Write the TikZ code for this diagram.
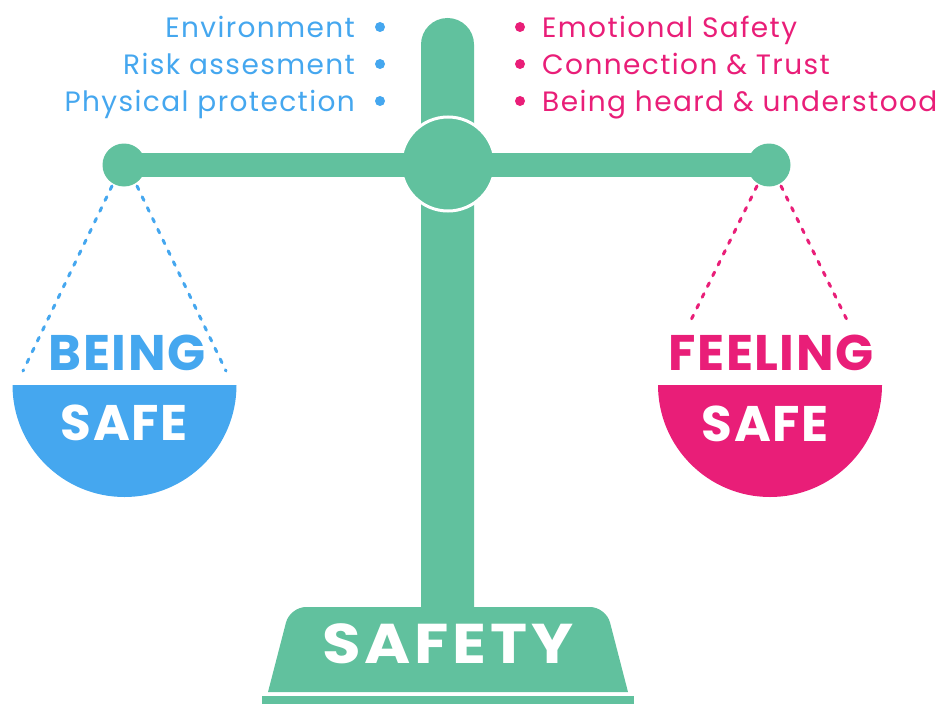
\documentclass[tikz,border=0pt]{standalone}
\usepackage{fontspec}
\setmainfont{Poppins}
\newfontfamily\listfont[LetterSpace=5]{Poppins}
\newfontfamily\wordfont[LetterSpace=3]{Poppins}
\newfontfamily\basefont[LetterSpace=6]{Poppins}
\definecolor{scalegreen}{HTML}{61C19E}
\definecolor{safeblue}{HTML}{45A7EF}
\definecolor{safepink}{HTML}{E91E78}
\tikzset{
  listtext/.style={font=\listfont\fontsize{28}{30}\selectfont, inner sep=0pt},
  bigword/.style={font=\wordfont\fontsize{50}{54}\selectfont\bfseries, inner sep=0pt},
  rope/.style={line width=3pt, line cap=round, dash pattern=on 4pt off 8pt},
}
\begin{document}
\begin{tikzpicture}[x=1pt,y=-1pt]
\useasboundingbox (0,0) rectangle (949,706);

\fill [scalegreen] (421,620) -- (421,44.5) arc [start angle=180, end angle=360, radius=26.5] -- (474,620) -- cycle;
\fill [scalegreen] (268,692) [rounded corners=16] -- (290,607) -- (606,607) [sharp corners] -- (628,692) -- cycle;
\fill [scalegreen] (262,696) rectangle (634,704);

\draw [rope, safeblue] (112,186) -- (23,371);
\draw [rope, safeblue] (137,186) -- (226,371);
\draw [rope, safepink] (757,186) -- (690,322);
\draw [rope, safepink] (781,186) -- (848,322);

\draw [white, line width=3pt, fill=scalegreen] (448,164) circle [radius=47];
\fill [scalegreen] (124,153) rectangle (770,177);
\fill [scalegreen] (124,165) circle [radius=21.5];
\fill [scalegreen] (769,165) circle [radius=21.5];

\fill [safeblue] (12.5,385) arc [start angle=180, end angle=0, radius=112] -- cycle;
\fill [safepink] (658,385) arc [start angle=180, end angle=0, radius=112] -- cycle;

\node [listtext, text=safeblue, anchor=base east] (environment) at (355,38) {Environment};
\node [listtext, text=safeblue, anchor=base east] (risk) at (355,75) {Risk assesment};
\node [listtext, text=safeblue, anchor=base east] (physical) at (355,112) {Physical protection};
\foreach \y in {27,64,101} \fill [safeblue] (380,\y) circle [radius=5];

\node [listtext, text=safepink, anchor=base west] (emotional) at (542,38) {Emotional Safety};
\node [listtext, text=safepink, anchor=base west] (connection) at (542,75) {Connection \& Trust};
\node [listtext, text=safepink, anchor=base west] (heard) at (542,112) {Being heard \& understood};
\foreach \y in {27,64,101} \fill [safepink] (520,\y) circle [radius=5];

\node [bigword, text=safeblue, anchor=base] (being) at (127,370) {BEING};
\node [bigword, text=white, anchor=base] (safeleft) at (124,440) {SAFE};
\node [bigword, text=safepink, anchor=base] (feeling) at (771,370) {FEELING};
\node [bigword, text=white, anchor=base] (saferight) at (765,441) {SAFE};

\node [text=white, anchor=base, inner sep=0pt, font=\basefont\fontsize{56}{60}\selectfont\bfseries] (safety) at (448,663) {\scalebox{1.12}[1]{SAFETY}};
\end{tikzpicture}
\end{document}
